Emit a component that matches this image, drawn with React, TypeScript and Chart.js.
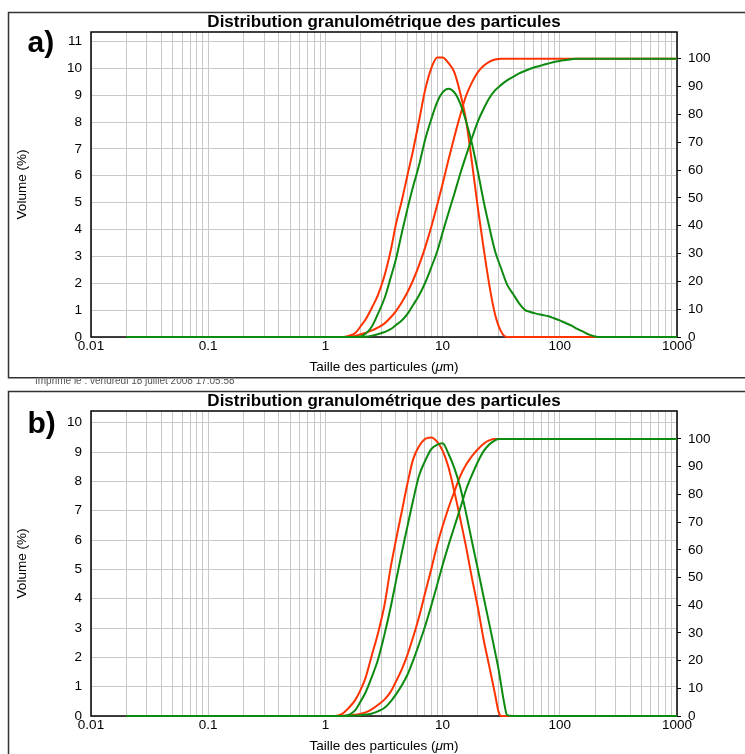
import React, { useEffect, useRef } from "react";
import { Chart, registerables } from "chart.js";

Chart.register(...registerables);

// ---------- texts ----------
const TITLE = "Distribution granulométrique des particules";
const X_TITLE_PARTS = ["Taille des particules (", "μ", "m)"];
const Y_TITLE = "Volume (%)";
const STAMP = "Imprimé le : vendredi 18 juillet 2008 17:05:58";

// ---------- ticks ----------
const xDecades = [0.01, 0.1, 1, 10, 100];
const xMultipliers = [1, 2, 3, 4, 5, 6, 7, 8, 9];
const xTickLabels = ["0.01", "0.1", "1", "10", "100", "1000"];
const leftTicksA = [0, 1, 2, 3, 4, 5, 6, 7, 8, 9, 10, 11];
const leftTicksB = [0, 1, 2, 3, 4, 5, 6, 7, 8, 9, 10];
const rightTicks = [0, 10, 20, 30, 40, 50, 60, 70, 80, 90, 100];

// ---------- panel a data ----------
const sizesA = [0.02, 1.4, 1.6, 1.8, 2, 2.2, 2.5, 2.8, 3.2, 3.6, 4, 4.5, 5, 5.6, 6.3, 7.1, 8, 9, 10, 11.2, 12.6, 14.1, 15.8, 17.8, 20, 22.4, 25, 28, 31.6, 35.5, 40, 45, 50, 56, 63, 71, 80, 89, 100, 112, 126, 141, 158, 178, 200, 224, 1000];
const redFreqA = [0, 0, 0.05, 0.15, 0.4, 0.65, 1.1, 1.55, 2.3, 3.2, 4.2, 5.1, 6.0, 6.95, 8.05, 9.2, 10.0, 10.4, 10.4, 10.2, 9.85, 9.1, 8.1, 6.5, 4.8, 3.3, 1.95, 0.85, 0.2, 0, 0, 0, 0, 0, 0, 0, 0, 0, 0, 0, 0, 0, 0, 0, 0, 0, 0];
const redCumA = [0, 0, 0.15, 0.4, 1.0, 1.5, 2.4, 3.4, 4.9, 7.0, 9.3, 12.6, 16.0, 20.4, 25.8, 32.2, 39.5, 47.5, 55, 63.5, 72, 79.5, 86.5, 91.5, 95.2, 97.5, 98.9, 99.7, 100, 100, 100, 100, 100, 100, 100, 100, 100, 100, 100, 100, 100, 100, 100, 100, 100, 100, 100];
const greenFreqA = [0, 0, 0, 0, 0.02, 0.12, 0.4, 0.85, 1.45, 2.2, 2.9, 3.9, 4.75, 5.6, 6.4, 7.35, 8.1, 8.75, 9.1, 9.24, 9.1, 8.7, 8.05, 7.2, 6.15, 5.05, 4.1, 3.2, 2.55, 1.95, 1.6, 1.25, 1.02, 0.93, 0.87, 0.82, 0.77, 0.7, 0.62, 0.52, 0.42, 0.3, 0.2, 0.09, 0.02, 0, 0];
const greenCumA = [0, 0, 0, 0, 0, 0.1, 0.5, 1.0, 1.8, 2.8, 4.3, 6.0, 8.2, 11.5, 15.0, 19.5, 25, 30.8, 37.5, 44.5, 51.5, 58.5, 65, 71.5, 77.5, 82, 85.8, 88.6, 90.6, 92.2, 93.5, 94.7, 95.6, 96.4, 97.1, 97.7, 98.3, 98.8, 99.2, 99.5, 99.8, 100, 100, 100, 100, 100, 100];

// ---------- panel b data ----------
const sizesB = [0.02, 1.2, 1.4, 1.6, 1.8, 2, 2.2, 2.5, 2.8, 3.2, 3.6, 4, 4.5, 5, 5.6, 6.3, 7.1, 8, 9, 10, 11.2, 12.6, 14.1, 15.8, 17.8, 20, 22.4, 25, 28, 30, 31.6, 33.5, 35.5, 40, 1000];
const redFreqB = [0, 0, 0.08, 0.3, 0.55, 0.9, 1.3, 2.1, 2.8, 3.8, 5.05, 6.0, 7.0, 7.9, 8.75, 9.2, 9.45, 9.5, 9.35, 9.05, 8.5, 7.65, 6.75, 5.8, 4.7, 3.7, 2.6, 1.7, 0.75, 0.15, 0, 0, 0, 0, 0];
const redCumB = [0, 0, 0.05, 0.2, 0.45, 0.85, 1.3, 2.5, 4.0, 6.0, 8.7, 12.4, 17, 22, 28.4, 35.8, 44.5, 53, 61.8, 68.5, 75, 81, 86.5, 90.6, 93.8, 96.3, 98.3, 99.5, 100, 100, 100, 100, 100, 100, 100];
const greenFreqB = [0, 0, 0, 0.05, 0.2, 0.5, 0.8, 1.35, 1.9, 2.8, 3.7, 4.6, 5.6, 6.45, 7.35, 8.2, 8.7, 9.1, 9.25, 9.3, 8.95, 8.45, 7.82, 6.95, 5.95, 5.0, 4.05, 3.15, 2.2, 1.6, 1.05, 0.45, 0.03, 0, 0];
const greenCumB = [0, 0, 0, 0.05, 0.15, 0.3, 0.5, 0.9, 1.7, 3.0, 5.2, 7.8, 11.2, 14.8, 20, 26, 32.5, 39.8, 47.5, 54.5, 61.5, 68.3, 74.8, 81.5, 87, 91.8, 95.6, 98, 99.5, 100, 100, 100, 100, 100, 100];

// ---------- styles ----------
const RED = "#ff3300";
const GREEN = "#0d8a10";
const GRID = "#c9c9c9";
const FONT = "'Liberation Sans', Arial, Helvetica, sans-serif";
const W = 745;
const PLOT_TOP = 32;
const PLOT_BOTTOM = 337;
const X_AXIS_H = 30;

const xTickValues: number[] = [];
xDecades.forEach((d) => xMultipliers.forEach((m) => xTickValues.push(+(d * m).toPrecision(6))));
xTickValues.push(1000);

function xLabel(v: number): string {
  const lg = Math.log10(v);
  if (Math.abs(lg - Math.round(lg)) > 1e-6) return "";
  const idx = Math.round(lg) + 2;
  return xTickLabels[idx] ?? "";
}

interface PanelDef {
  height: number;
  letter: string;
  letterBaseline: number;
  sizes: number[];
  redFreq: number[];
  redCum: number[];
  greenFreq: number[];
  greenCum: number[];
  leftMax: number;
  rightMax: number;
  leftTicks: number[];
  boxBottom: number | null;
  stamp: boolean;
}

function makeChart(canvas: HTMLCanvasElement, p: PanelDef) {
  const pts = (vals: number[]) => p.sizes.map((s, i) => ({ x: s, y: vals[i] }));
  const tickFont = { family: FONT, size: 13.5 };
  const ds = (vals: number[], color: string, axis: string) => ({
    data: pts(vals),
    yAxisID: axis,
    borderColor: color,
    backgroundColor: color,
    borderWidth: 2,
    pointRadius: 0,
    cubicInterpolationMode: "monotone",
    fill: false,
    clip: false as const,
  });

  const decor = {
    id: "decor",
    beforeDraw(chart: any) {
      const ctx = chart.ctx;
      ctx.save();
      ctx.fillStyle = "#fff";
      ctx.fillRect(0, 0, chart.width, chart.height);
      ctx.restore();
    },
    beforeDatasetsDraw(chart: any) {
      const ctx = chart.ctx;
      const a = chart.chartArea;
      ctx.save();
      ctx.strokeStyle = "#000";
      ctx.lineWidth = 1.5;
      ctx.strokeRect(a.left, a.top, a.right - a.left, a.bottom - a.top);
      ctx.restore();
    },
    afterDraw(chart: any) {
      const ctx = chart.ctx;
      const a = chart.chartArea;
      const cx = (a.left + a.right) / 2;
      ctx.save();
      // panel frame
      ctx.strokeStyle = "#333";
      ctx.lineWidth = 1.5;
      ctx.beginPath();
      const bottom = p.boxBottom ?? chart.height + 10;
      ctx.moveTo(W + 10, 12.5);
      ctx.lineTo(8.5, 12.5);
      ctx.lineTo(8.5, bottom);
      if (p.boxBottom !== null) ctx.lineTo(W + 10, bottom);
      ctx.stroke();
      // title
      ctx.fillStyle = "#000";
      ctx.font = `bold 17px ${FONT}`;
      ctx.textAlign = "center";
      ctx.textBaseline = "middle";
      ctx.fillText(TITLE, cx, 22.5);
      // panel letter
      ctx.font = `bold 30px ${FONT}`;
      ctx.textAlign = "left";
      ctx.textBaseline = "alphabetic";
      ctx.fillText(p.letter, 27.5, p.letterBaseline);
      // x title with italic mu
      const fN = `13.5px ${FONT}`;
      const fI = `italic 13.5px ${FONT}`;
      ctx.font = fN;
      const w0 = ctx.measureText(X_TITLE_PARTS[0]).width;
      const w2 = ctx.measureText(X_TITLE_PARTS[2]).width;
      ctx.font = fI;
      const w1 = ctx.measureText(X_TITLE_PARTS[1]).width;
      let x = cx - (w0 + w1 + w2) / 2;
      const ty = a.bottom + 30.7;
      ctx.textBaseline = "middle";
      ctx.font = fN;
      ctx.fillText(X_TITLE_PARTS[0], x, ty);
      x += w0;
      ctx.font = fI;
      ctx.fillText(X_TITLE_PARTS[1], x, ty);
      x += w1;
      ctx.font = fN;
      ctx.fillText(X_TITLE_PARTS[2], x, ty);
      // y title
      ctx.save();
      ctx.translate(22, (a.top + a.bottom) / 2);
      ctx.rotate(-Math.PI / 2);
      ctx.textAlign = "center";
      ctx.textBaseline = "middle";
      ctx.font = fN;
      ctx.fillText(Y_TITLE, 0, 0);
      ctx.restore();
      // clipped print stamp (only its lower part shows below panel a)
      if (p.stamp) {
        ctx.font = `10px ${FONT}`;
        ctx.fillStyle = "#555";
        ctx.textAlign = "left";
        ctx.textBaseline = "alphabetic";
        ctx.fillText(STAMP, 35, 4.5);
      }
      ctx.restore();
    },
  };

  return new Chart(canvas, {
    type: "line",
    data: {
      datasets: [
        ds(p.greenFreq, GREEN, "y"),
        ds(p.greenCum, GREEN, "y1"),
        ds(p.redFreq, RED, "y"),
        ds(p.redCum, RED, "y1"),
      ] as any,
    },
    options: {
      animation: false,
      responsive: false,
      devicePixelRatio: 1,
      events: [],
      layout: {
        padding: { left: 0, right: 0, top: PLOT_TOP, bottom: p.height - PLOT_BOTTOM - X_AXIS_H },
      },
      plugins: {
        legend: { display: false },
        tooltip: { enabled: false },
        title: { display: false },
      },
      scales: {
        x: {
          type: "logarithmic",
          min: 0.01,
          max: 1000,
          afterBuildTicks: (s: any) => {
            s.ticks = xTickValues.map((v) => ({ value: v }));
          },
          afterFit: (s: any) => {
            s.height = X_AXIS_H;
          },
          grid: { color: GRID, lineWidth: 1, drawTicks: false },
          border: { display: false },
          ticks: {
            autoSkip: false,
            maxRotation: 0,
            minRotation: 0,
            padding: 1,
            color: "#000",
            font: tickFont,
            callback: (v: any) => xLabel(Number(v)),
          },
        },
        y: {
          position: "left",
          min: 0,
          max: p.leftMax,
          afterBuildTicks: (s: any) => {
            s.ticks = p.leftTicks.map((v) => ({ value: v }));
          },
          afterFit: (s: any) => {
            s.width = 91;
          },
          grid: { color: GRID, lineWidth: 1, drawTicks: false },
          border: { display: false },
          ticks: { padding: 9, color: "#000", font: tickFont },
        },
        y1: {
          position: "right",
          min: 0,
          max: p.rightMax,
          afterBuildTicks: (s: any) => {
            s.ticks = rightTicks.map((v) => ({ value: v }));
          },
          afterFit: (s: any) => {
            s.width = W - 677;
          },
          grid: { drawOnChartArea: false, drawTicks: true, tickLength: 4, color: "#000", lineWidth: 1 },
          border: { display: false },
          ticks: { padding: 7, color: "#000", font: tickFont },
        },
      },
    } as any,
    plugins: [decor],
  });
}

const panelA: PanelDef = {
  height: 379,
  letter: "a)",
  letterBaseline: 52,
  sizes: sizesA,
  redFreq: redFreqA,
  redCum: redCumA,
  greenFreq: greenFreqA,
  greenCum: greenCumA,
  leftMax: 11.35,
  rightMax: 109.6,
  leftTicks: leftTicksA,
  boxBottom: 377.75,
  stamp: false,
};

const panelB: PanelDef = {
  height: 375,
  letter: "b)",
  letterBaseline: 53.5,
  sizes: sizesB,
  redFreq: redFreqB,
  redCum: redCumB,
  greenFreq: greenFreqB,
  greenCum: greenCumB,
  leftMax: 10.4,
  rightMax: 110.1,
  leftTicks: leftTicksB,
  boxBottom: null,
  stamp: true,
};

function Panel({ def, top }: { def: PanelDef; top: number }) {
  const ref = useRef<HTMLCanvasElement | null>(null);
  useEffect(() => {
    if (!ref.current) return;
    const chart = makeChart(ref.current, def);
    return () => chart.destroy();
  }, [def]);
  return (
    <div style={{ position: "absolute", left: 0, top, width: W, height: def.height }}>
      <canvas ref={ref} width={W} height={def.height} style={{ width: W, height: def.height, display: "block" }} />
    </div>
  );
}

export default function App() {
  return (
    <div style={{ position: "fixed", left: 0, top: 0, width: W, height: 754, background: "#fff", overflow: "hidden" }}>
      <Panel def={panelA} top={0} />
      <Panel def={panelB} top={379} />
    </div>
  );
}
